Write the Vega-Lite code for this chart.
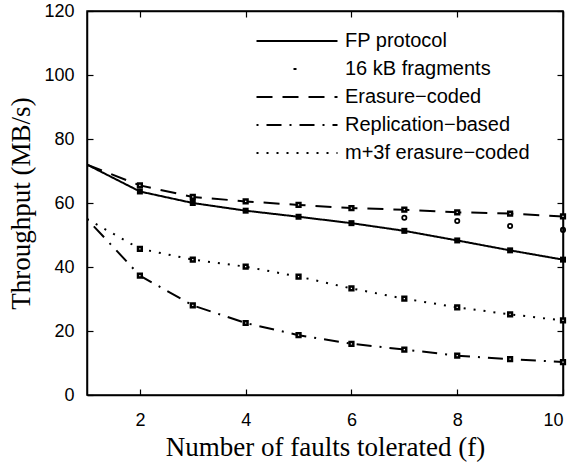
{
  "$schema": "https://vega.github.io/schema/vega-lite/v6.json",
  "width": 476,
  "height": 384,
  "autosize": "none",
  "padding": {"left": 87, "top": 11, "right": 11, "bottom": 71},
  "background": "white",
  "config": {
    "view": {"stroke": "black", "strokeWidth": 1.5},
    "axis": {"domainColor": "black", "domainWidth": 1.5, "tickColor": "black", "tickWidth": 1.2, "grid": false,
             "labelFont": "Liberation Sans", "labelFontSize": 18, "labelColor": "black",
             "titleFont": "Liberation Serif", "titleFontSize": 27, "titleFontWeight": "normal", "titleColor": "black"}
  },
  "data": {"values": [
    {"series": "FP protocol", "f": 1, "t": 72.0},
    {"series": "FP protocol", "f": 2, "t": 63.6},
    {"series": "FP protocol", "f": 3, "t": 60.0},
    {"series": "FP protocol", "f": 4, "t": 57.6},
    {"series": "FP protocol", "f": 5, "t": 55.7},
    {"series": "FP protocol", "f": 6, "t": 53.7},
    {"series": "FP protocol", "f": 7, "t": 51.3},
    {"series": "FP protocol", "f": 8, "t": 48.3},
    {"series": "FP protocol", "f": 9, "t": 45.2},
    {"series": "FP protocol", "f": 10, "t": 42.3},
    {"series": "16 kB fragments", "f": 7, "t": 55.4},
    {"series": "16 kB fragments", "f": 8, "t": 54.4},
    {"series": "16 kB fragments", "f": 9, "t": 52.8},
    {"series": "16 kB fragments", "f": 10, "t": 51.6},
    {"series": "Erasure−coded", "f": 1, "t": 72.0},
    {"series": "Erasure−coded", "f": 2, "t": 65.5},
    {"series": "Erasure−coded", "f": 3, "t": 61.9},
    {"series": "Erasure−coded", "f": 4, "t": 60.5},
    {"series": "Erasure−coded", "f": 5, "t": 59.4},
    {"series": "Erasure−coded", "f": 6, "t": 58.4},
    {"series": "Erasure−coded", "f": 7, "t": 57.9},
    {"series": "Erasure−coded", "f": 8, "t": 57.1},
    {"series": "Erasure−coded", "f": 9, "t": 56.7},
    {"series": "Erasure−coded", "f": 10, "t": 55.8},
    {"series": "Replication−based", "f": 1, "t": 55.0},
    {"series": "Replication−based", "f": 2, "t": 37.3},
    {"series": "Replication−based", "f": 3, "t": 28.0},
    {"series": "Replication−based", "f": 4, "t": 22.5},
    {"series": "Replication−based", "f": 5, "t": 18.7},
    {"series": "Replication−based", "f": 6, "t": 16.0},
    {"series": "Replication−based", "f": 7, "t": 14.2},
    {"series": "Replication−based", "f": 8, "t": 12.3},
    {"series": "Replication−based", "f": 9, "t": 11.2},
    {"series": "Replication−based", "f": 10, "t": 10.3},
    {"series": "m+3f erasure−coded", "f": 1, "t": 55.0},
    {"series": "m+3f erasure−coded", "f": 2, "t": 45.7},
    {"series": "m+3f erasure−coded", "f": 3, "t": 42.3},
    {"series": "m+3f erasure−coded", "f": 4, "t": 40.1},
    {"series": "m+3f erasure−coded", "f": 5, "t": 37.0},
    {"series": "m+3f erasure−coded", "f": 6, "t": 33.3},
    {"series": "m+3f erasure−coded", "f": 7, "t": 30.1},
    {"series": "m+3f erasure−coded", "f": 8, "t": 27.4},
    {"series": "m+3f erasure−coded", "f": 9, "t": 25.2},
    {"series": "m+3f erasure−coded", "f": 10, "t": 23.3}
  ]},
  "resolve": {"axis": {"x": "independent", "y": "independent"}},
  "layer": [
    {
      "transform": [{"filter": "datum.series != '16 kB fragments'"}],
      "mark": {"type": "line", "color": "black", "strokeWidth": 2, "clip": true},
      "encoding": {
        "x": {"field": "f", "type": "quantitative", "scale": {"domain": [1, 10], "nice": false},
              "axis": {"orient": "bottom", "values": [2, 4, 6, 8, 10], "tickSize": -6, "labelPadding": 22, "title": "Number of faults tolerated (f)", "titlePadding": 5}},
        "y": {"field": "t", "type": "quantitative", "scale": {"domain": [0, 120], "nice": false},
              "axis": {"orient": "left", "values": [0, 20, 40, 60, 80, 100, 120], "tickSize": -6, "labelPadding": 19, "title": "Throughput (MB/s)", "titlePadding": 8}},
        "strokeDash": {"field": "series", "type": "nominal",
          "scale": {"domain": ["FP protocol", "16 kB fragments", "Erasure−coded", "Replication−based", "m+3f erasure−coded"],
                    "range": [[1, 0], [0, 37, 3, 1000], [16, 10], [2, 8, 15, 8], [2, 8]]},
          "legend": {"orient": "none", "legendX": 200, "legendY": 20, "padding": 0, "title": null, "symbolType": "M-13.5,0H13.5", "symbolSize": 36,
                     "symbolStrokeColor": "black", "symbolStrokeWidth": 2, "labelFont": "Liberation Sans", "labelFontSize": 20, "labelColor": "black",
                     "rowPadding": 8, "labelOffset": 38, "labelLimit": 300}
        }
      }
    },
    {
      "transform": [{"filter": "datum.series == 'FP protocol' && datum.f > 1"}],
      "mark": {"type": "point", "shape": "square", "filled": true, "color": "black", "size": 36, "opacity": 1},
      "encoding": {"x": {"field": "f", "type": "quantitative", "axis": null}, "y": {"field": "t", "type": "quantitative", "axis": null}}
    },
    {
      "transform": [{"filter": "datum.series != 'FP protocol' && datum.series != '16 kB fragments' && datum.f > 1"}],
      "mark": {"type": "point", "shape": "square", "filled": false, "color": "black", "size": 14, "strokeWidth": 2.5, "opacity": 1, "fill": "white"},
      "encoding": {"x": {"field": "f", "type": "quantitative", "axis": null}, "y": {"field": "t", "type": "quantitative", "axis": null}}
    },
    {
      "transform": [{"filter": "datum.series == '16 kB fragments'"}],
      "mark": {"type": "point", "shape": "circle", "filled": false, "color": "black", "size": 18, "strokeWidth": 1.8, "opacity": 1},
      "encoding": {"x": {"field": "f", "type": "quantitative", "axis": null}, "y": {"field": "t", "type": "quantitative", "axis": null}}
    },
    {
      "transform": [{"filter": "datum.f == 1"}],
      "mark": {"type": "point", "opacity": 0},
      "encoding": {
        "x": {"field": "f", "type": "quantitative", "axis": {"orient": "top", "values": [2, 4, 6, 8, 10], "tickSize": -6, "labels": false, "title": null}},
        "y": {"field": "t", "type": "quantitative", "axis": {"orient": "right", "values": [0, 20, 40, 60, 80, 100, 120], "tickSize": -6, "labels": false, "title": null}}
      }
    }
  ]
}
